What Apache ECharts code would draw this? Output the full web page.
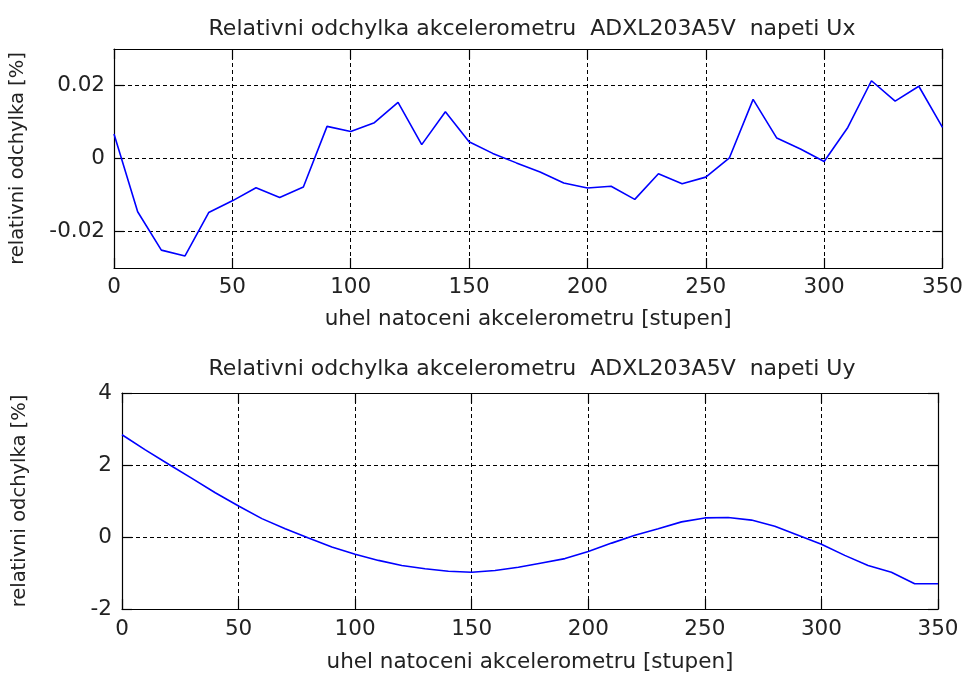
<!DOCTYPE html>
<html><head><meta charset="utf-8">
<script src="https://cdn.jsdelivr.net/npm/echarts@6/dist/echarts.min.js"></script>
<style>html,body{margin:0;padding:0;background:#fff}#c{width:966px;height:677px}</style>
</head><body><div id="c"></div>
<script>
const angles = [0,10,20,30,40,50,60,70,80,90,100,110,120,130,140,150,160,170,180,190,200,210,220,230,240,250,260,270,280,290,300,310,320,330,340,350];
const ux = [0.0067,-0.0146,-0.0251,-0.0267,-0.0148,-0.0116,-0.0080,-0.0107,-0.0078,0.0088,0.0074,0.0098,0.0154,0.0038,0.0128,0.0046,0.0014,-0.0012,-0.0037,-0.0067,-0.0081,-0.0076,-0.0112,-0.0042,-0.0069,-0.0051,0.0002,0.0162,0.0056,0.0026,-0.0008,0.0085,0.0213,0.0157,0.0198,0.0085];
const uy = [2.84,2.42,2.02,1.63,1.23,0.86,0.51,0.23,-0.03,-0.28,-0.48,-0.65,-0.79,-0.88,-0.95,-0.98,-0.93,-0.84,-0.72,-0.60,-0.40,-0.17,0.05,0.23,0.42,0.53,0.54,0.47,0.30,0.05,-0.20,-0.51,-0.79,-0.98,-1.30,-1.30];
const uxTicks = [-0.02, 0, 0.02];
const titleUx = 'Relativni odchylka akcelerometru  ADXL203A5V  napeti Ux';
const titleUy = 'Relativni odchylka akcelerometru  ADXL203A5V  napeti Uy';
const xName = 'uhel natoceni akcelerometru [stupen]';
const yName = 'relativni odchylka [%]';

const FONT = 'DejaVu Sans';
const FS = 21.5;
const txt = {color:'#222', fontFamily: FONT, fontSize: FS};
const yNameTxt = {color:'#222', fontFamily: FONT, fontSize: 19.5};
const dashed = {color:'#000', type:[4,3], width:1};
const axLine = {show:true, onZero:false, lineStyle:{color:'#000', width:1.2}};
const tick = {show:true, inside:true, length:10, lineStyle:{color:'#000', width:1.2}};

function xAxes(gi, gap, margin){
  return [
    {type:'value', gridIndex:gi, min:0, max:350, interval:50, position:'bottom',
     name:xName, nameLocation:'middle', nameGap:gap, nameTextStyle:txt,
     axisLine:axLine, axisTick:tick, axisLabel:Object.assign({margin:margin}, txt),
     splitLine:{show:true, lineStyle:dashed}},
    {type:'value', gridIndex:gi, min:0, max:350, interval:50, position:'top',
     axisLine:axLine, axisTick:tick, axisLabel:{show:false}, splitLine:{show:false}}
  ];
}

const option = {
  backgroundColor:'#fff',
  animation:false,
  title:[
    {text:titleUx, left:527, textAlign:'center', top:13, textStyle:Object.assign({fontWeight:'normal'}, txt, {fontSize:22})},
    {text:titleUy, left:527, textAlign:'center', top:353, textStyle:Object.assign({fontWeight:'normal'}, txt, {fontSize:22})}
  ],
  grid:[
    {left:114, top:49, width:830, height:219, show:false},
    {left:122, top:393, width:816, height:216, show:false}
  ],
  xAxis: [...xAxes(0, 40, 8), ...xAxes(1, 42, 9)],
  yAxis:[
    {type:'value', gridIndex:0, min:-0.03, max:0.03, position:'left',
     name:yName, nameLocation:'middle', nameGap:86, nameTextStyle:yNameTxt,
     axisLine:axLine,
     axisTick:Object.assign({customValues:uxTicks}, tick),
     axisLabel:Object.assign({customValues:uxTicks, margin:9, formatter:v=>String(+v.toFixed(2))}, txt),
     splitLine:{show:true, lineStyle:dashed}},
    {type:'value', gridIndex:0, min:-0.03, max:0.03, position:'right',
     axisLine:axLine, axisTick:Object.assign({customValues:uxTicks}, tick),
     axisLabel:{show:false}, splitLine:{show:false}},
    {type:'value', gridIndex:1, min:-2, max:4, interval:2, position:'left',
     name:yName, nameLocation:'middle', nameGap:92, nameTextStyle:yNameTxt,
     axisLine:axLine, axisTick:tick,
     axisLabel:Object.assign({margin:10}, txt),
     splitLine:{show:true, lineStyle:dashed}},
    {type:'value', gridIndex:1, min:-2, max:4, interval:2, position:'right',
     axisLine:axLine, axisTick:tick, axisLabel:{show:false}, splitLine:{show:false}}
  ],
  series:[
    {type:'line', xAxisIndex:0, yAxisIndex:0, showSymbol:false, symbol:'none',
     lineStyle:{color:'#0000ff', width:1.6}, data: angles.map((a,i)=>[a, ux[i]])},
    {type:'line', xAxisIndex:2, yAxisIndex:2, showSymbol:false, symbol:'none',
     lineStyle:{color:'#0000ff', width:1.6}, data: angles.map((a,i)=>[a, uy[i]])}
  ]
};
const chart = echarts.init(document.getElementById('c'), null, {renderer:'canvas'});
chart.setOption(option);
</script>
</body></html>
